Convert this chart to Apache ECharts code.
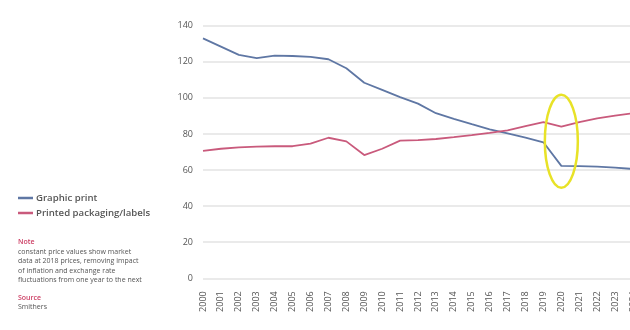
<!DOCTYPE html>
<html>
<head>
<meta charset="utf-8">
<script src="https://cdn.jsdelivr.net/npm/echarts@6/dist/echarts.min.js"></script>
<style>
  html, body { margin: 0; padding: 0; background: #fff; }
  #chart { width: 630px; height: 330px; }
</style>
</head>
<body>
<div id="chart"></div>
<script>
// Market value index, constant 2018 prices
const years = ['2000','2001','2002','2003','2004','2005','2006','2007','2008','2009',
  '2010','2011','2012','2013','2014','2015','2016','2017','2018','2019',
  '2020','2021','2022','2023','2024'];
const graphicPrint = [133.0, 128.4, 123.8, 122.0, 123.4, 123.2, 122.7, 121.4, 116.4, 108.4,
  104.4, 100.4, 96.8, 91.5, 88.3, 85.4, 82.6, 80.3, 78.0, 75.4,
  62.3, 62.2, 61.9, 61.3, 60.6];
const packaging = [70.6, 71.8, 72.6, 73.0, 73.2, 73.2, 74.6, 77.9, 75.9, 68.3,
  71.8, 76.3, 76.6, 77.2, 78.2, 79.3, 80.6, 82.0, 84.3, 86.6,
  84.0, 86.6, 88.6, 90.2, 91.5];
const yTicks = [0, 20, 40, 60, 80, 100, 120, 140];
const seriesNames = ['Graphic print', 'Printed packaging/labels'];
const noteLines = [
  'constant price values show market',
  'data at 2018 prices, removing impact',
  'of inflation and exchange rate',
  'fluctuations from one year to the next'
];
const sourceName = 'Smithers';
const highlightYear = '2020';
const highlightValue = 76;

const FONT = '"Open Sans", "Noto Sans", sans-serif';
const BLUE = '#5f77a4';
const PINK = '#c95a7c';
const ACCENT = '#cc3d63';

const chart = echarts.init(document.getElementById('chart'), null, { renderer: 'canvas' });

const noteGraphics = [
  { type: 'text', left: 18, top: 238.5, style: { text: 'Note', fill: ACCENT, font: '600 7px ' + FONT } }
].concat(noteLines.map((t, i) => ({
  type: 'text', left: 18, top: 248.5 + i * 9.3,
  style: { text: t, fill: '#555', font: '7px ' + FONT }
}))).concat([
  { type: 'text', left: 18, top: 294.5, style: { text: 'Source', fill: ACCENT, font: '600 7px ' + FONT } },
  { type: 'text', left: 18, top: 303.5, style: { text: sourceName, fill: '#555', font: '7px ' + FONT } }
]);

chart.setOption({
  animation: false,
  backgroundColor: '#fff',
  textStyle: { fontFamily: FONT },
  grid: { left: 203, right: -3, top: 25.7, bottom: 51.7, containLabel: false, outerBoundsMode: 'none' },
  legend: {
    orient: 'vertical',
    left: 18, top: 193, padding: 0,
    itemWidth: 15, itemHeight: 2.5, itemGap: 5,
    icon: 'rect',
    data: seriesNames,
    textStyle: { fontFamily: FONT, fontSize: 9.6, fontWeight: 600, color: '#555', padding: [0, 0, 0, -2] }
  },
  xAxis: {
    type: 'category',
    data: years,
    boundaryGap: false,
    axisLine: { show: false },
    axisTick: { show: false },
    axisLabel: { rotate: 90, fontSize: 9, color: '#555', margin: 13, interval: 0, fontFamily: FONT }
  },
  yAxis: {
    type: 'value',
    min: yTicks[0], max: yTicks[yTicks.length - 1], interval: 20,
    axisLine: { show: false },
    axisTick: { show: false },
    axisLabel: { fontSize: 9, color: '#555', margin: 10, fontFamily: FONT },
    splitLine: { lineStyle: { color: '#e3e3e3', width: 1.5 } }
  },
  series: [
    { name: seriesNames[0], type: 'line', data: graphicPrint, symbol: 'none',
      lineStyle: { color: BLUE, width: 1.8 }, itemStyle: { color: BLUE } },
    { name: seriesNames[1], type: 'line', data: packaging, symbol: 'none',
      lineStyle: { color: PINK, width: 1.8 }, itemStyle: { color: PINK } }
  ],
  graphic: noteGraphics
});

// Yellow ellipse around the 2020 drop
const c = chart.convertToPixel({ xAxisIndex: 0, yAxisIndex: 0 }, [highlightYear, highlightValue]);
chart.setOption({
  graphic: noteGraphics.concat([{
    type: 'ellipse',
    shape: { cx: c[0], cy: c[1], rx: 16.5, ry: 46.5 },
    style: { fill: 'none', stroke: '#e8e227', lineWidth: 2.5 },
    z: 100
  }])
});
</script>
</body>
</html>
